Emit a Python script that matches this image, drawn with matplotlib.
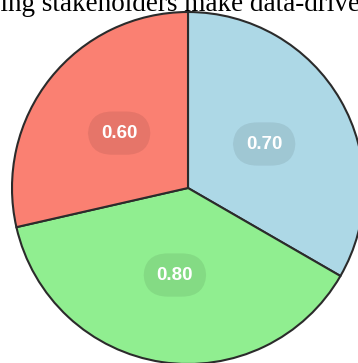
import matplotlib.pyplot as plt

# slice values, clockwise from the top
labels = ['A', 'B', 'C']
values = [0.70, 0.80, 0.60]
colors = ['#ADD8E6', '#90EE90', '#FA8072']
title = 'Helping stakeholders make data-driven decisions'

W, H = 358, 363
fig = plt.figure(figsize=(W / 100, H / 100), dpi=100)

# pie centre at (188, 188) px from top-left, radius 176 px
cx, cy, r = 188, 188, 176
ax = fig.add_axes([(cx - r) / W, (H - cy - r) / H, 2 * r / W, 2 * r / H])
ax.axis('off')

total = sum(values)
wedges, texts, autotexts = ax.pie(
    values, colors=colors, startangle=90, counterclock=False, radius=1,
    autopct=lambda p: '%.2f' % (p * total / 100), pctdistance=0.5,
    wedgeprops=dict(edgecolor='#2b2b2b', linewidth=1.5),
    frame=False)
ax.set_xlim(-1, 1)
ax.set_ylim(-1, 1)

for t in autotexts:
    t.set_color('white')
    t.set_fontsize(13.5)
    t.set_fontweight('bold')
    t.set_family('Liberation Sans')
    t.set_bbox(dict(boxstyle='round,pad=0.7,rounding_size=1.3', facecolor='black',
                    alpha=0.08, edgecolor='none'))

# title is wider than the canvas; shift it so "ing" starts at the left edge
tfont = dict(fontsize=19.5, family='Liberation Serif', color='black')
renderer = fig.canvas.get_renderer()
probe = fig.text(0, 0, 'Help', **tfont)
off = probe.get_window_extent(renderer).width
probe.remove()
fig.text((1 - off) / W, 1 - 11 / H, title, ha='left', va='baseline', **tfont)

fig.savefig('out.png', dpi=100)
